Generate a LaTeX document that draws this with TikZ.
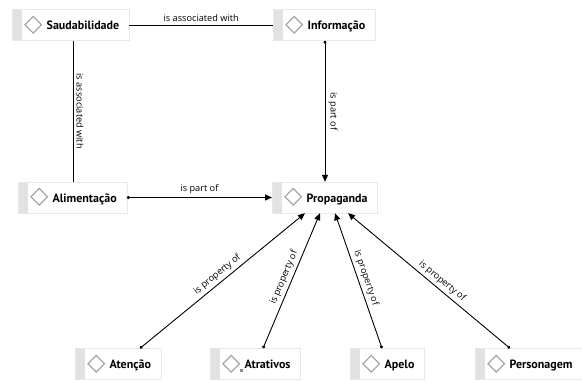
\documentclass[tikz,border=0pt]{standalone}
\usepackage{fontspec}
\setmainfont{Open Sans}
\newfontfamily\symfont{DejaVu Sans}
\newfontfamily\conceptfont{PT Sans}
\usetikzlibrary{arrows.meta}

\definecolor{boxline}{HTML}{E8E8E8}
\definecolor{boxstrip}{HTML}{E2E2E2}
\newcommand{\dmd}{\raisebox{-1.5pt}{\symfont\fontsize{24}{24}\selectfont\color{gray!75}◇}}
\newcommand{\concept}[1]{\hspace*{2pt}\dmd\hspace{4pt}#1}

\tikzset{
  conceptbox/.style={draw=boxline, fill=white, anchor=west, minimum height=31pt,
    inner xsep=10pt, inner ysep=0pt, font=\conceptfont\fontsize{12}{14}\selectfont\bfseries,
    path picture={\fill[boxstrip] (path picture bounding box.north west)
      rectangle ([xshift=10pt]path picture bounding box.south west);}},
  rel/.style={font=\fontsize{9.2}{11}\selectfont, inner sep=3pt},
  link/.style={line width=0.9pt},
  arrowlink/.style={link, {Circle[length=3pt]}-{Triangle[length=7pt,width=6pt]}},
}

\begin{document}
\begin{tikzpicture}[x=1pt,y=-1pt]
  \useasboundingbox (0,0) rectangle (582,382);

  % concepts
  \node[conceptbox] (saud) at (12,25) {\concept{Saudabilidade}};
  \node[conceptbox] (info) at (273,25) {\concept{Informação}};
  \node[conceptbox] (alim) at (18,197.5) {\concept{Alimentação}};
  \node[conceptbox] (prop) at (272,197.5) {\concept{Propaganda}};
  \node[conceptbox] (aten) at (75,364) {\concept{Atenção}};
  \node[conceptbox] (atra) at (210,364) {\concept{\llap{\raisebox{-3pt}{\color{gray!90}\rule{3pt}{3pt}}\hspace{2pt}}Atrativos}};
  \node[conceptbox] (apelo) at (350,364) {\concept{Apelo}};
  \node[conceptbox] (pers) at (475,364) {\concept{Personagem}};

  % relations
  \draw[link] (saud.east) -- node[rel, midway, above] {is associated with} (info.west);
  \draw[link] ([xshift=61pt]saud.south west) -- node[rel, midway, rotate=-90, anchor=south] {is associated with} ([xshift=55pt]alim.north west);
  \draw[arrowlink] ([xshift=52pt]info.south west) -- node[rel, midway, rotate=-90, anchor=south] {is part of} ([xshift=53pt]prop.north west);
  \draw[arrowlink] (alim.east) -- node[rel, midway, above] {is part of} (prop.west);

  \draw[arrowlink] ([xshift=65pt]aten.north west) -- node[rel, midway, sloped, above] {is property of} ([xshift=33pt]prop.south west);
  \draw[arrowlink] ([xshift=53pt]atra.north west) -- node[rel, midway, sloped, above] {is property of} ([xshift=48pt]prop.south west);
  \draw[arrowlink] ([xshift=32pt]apelo.north west) -- node[rel, midway, sloped, above] {is property of} ([xshift=63pt]prop.south west);
  \draw[arrowlink] ([xshift=35pt]pers.north west) -- node[rel, pos=0.45, sloped, above] {is property of} ([xshift=76pt]prop.south west);
\end{tikzpicture}
\end{document}
